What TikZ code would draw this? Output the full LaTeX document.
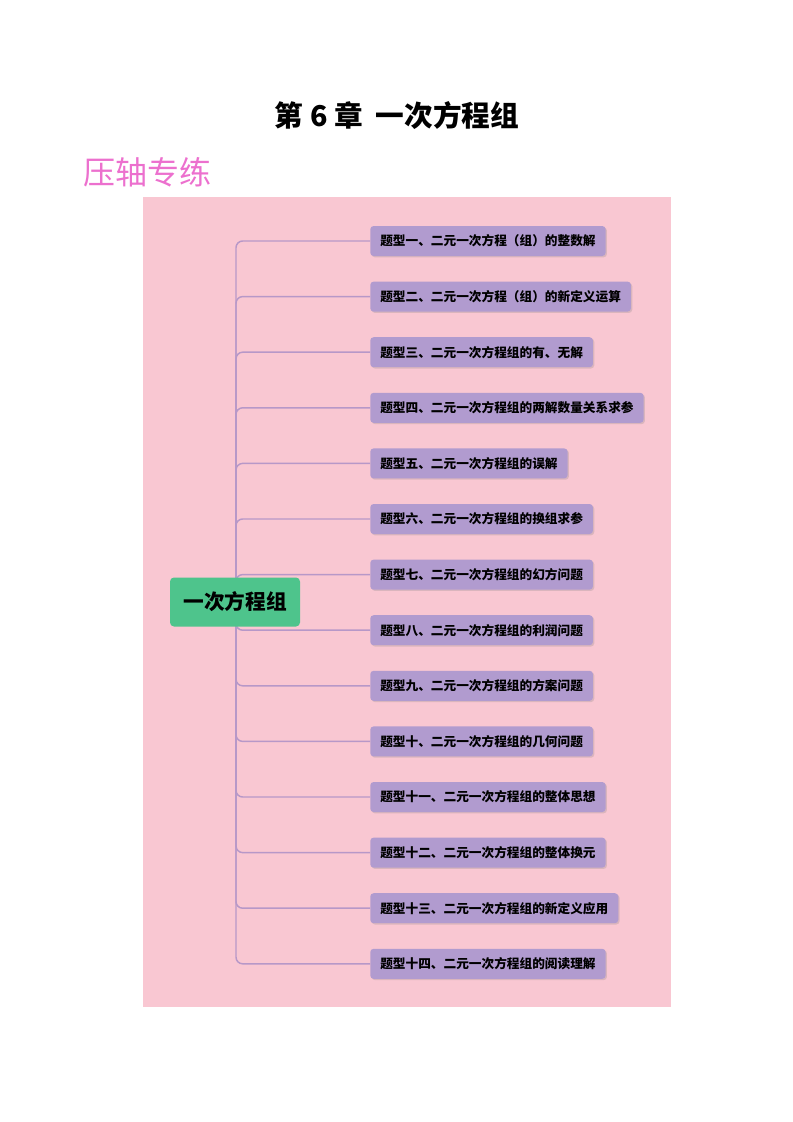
\documentclass[tikz,border=0pt]{standalone}
\usepackage{fontspec}
\newfontfamily\cjk{Noto Sans CJK SC}
\usetikzlibrary{shadows,backgrounds}
\definecolor{bgpink}{RGB}{249,199,210}
\definecolor{boxpurple}{RGB}{177,155,207}
\definecolor{rootgreen}{RGB}{78,196,140}
\definecolor{linepurple}{RGB}{183,152,200}
\definecolor{logopink}{RGB}{236,112,206}
\tikzset{
  topic/.style={draw=none, fill=boxpurple, rounded corners=2.5pt, anchor=west,
    font=\cjk\bfseries\fontsize{9.5pt}{11pt}\selectfont, inner xsep=7.5pt,
    minimum height=22.5pt, drop shadow={opacity=0.25, shadow xshift=1pt, shadow yshift=-1pt}},
  rootbox/.style={fill=rootgreen, rounded corners=3pt, minimum width=97.5pt,
    minimum height=36.75pt, font=\cjk\bfseries\fontsize{15.5pt}{18pt}\selectfont},
  logotext/.style={anchor=west, font=\cjk\fontsize{24pt}{28pt}\selectfont},
  branch/.style={linepurple, line width=1.1pt, rounded corners=5pt}
}

\begin{document}
\begin{tikzpicture}[x=0.75pt, y=-0.75pt]
    \useasboundingbox (0,0) rectangle (793,1122);
    % title and logo
    \node (title) at (397,116) {\cjk\bfseries\fontsize{21.5pt}{25pt}\selectfont 第 6 章\ \ 一次方程组};
    \node[logotext, text=logopink] (logo) at (79,172) {压轴专练};
    % mind map
    \node[rootbox] (root) at (235,602) {一次方程组};
    \coordinate (hub) at (236,602);
    \foreach \t [count=\i] in {题型一、二元一次方程（组）的整数解,
        题型二、二元一次方程（组）的新定义运算,
        题型三、二元一次方程组的有、无解,
        题型四、二元一次方程组的两解数量关系求参,
        题型五、二元一次方程组的误解,
        题型六、二元一次方程组的换组求参,
        题型七、二元一次方程组的幻方问题,
        题型八、二元一次方程组的利润问题,
        题型九、二元一次方程组的方案问题,
        题型十、二元一次方程组的几何问题,
        题型十一、二元一次方程组的整体思想,
        题型十二、二元一次方程组的整体换元,
        题型十三、二元一次方程组的新定义应用,
        题型十四、二元一次方程组的阅读理解} {
      \node[topic] (b\i) at (370,{241+(\i-1)*55.6}) {\t};
    }
    \begin{scope}[on background layer]
      \fill[bgpink] (143,197) rectangle (671,1007);
      \foreach \i in {1,...,14} {
        \draw[branch] (hub) |- (b\i.west);
      }
    \end{scope}
\end{tikzpicture}
\end{document}
